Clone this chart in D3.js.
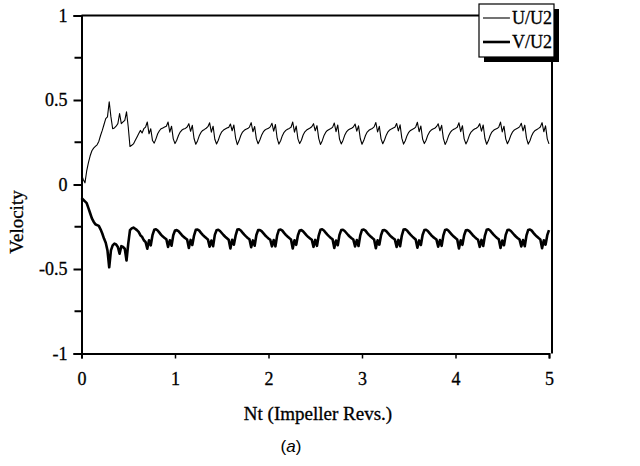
<!DOCTYPE html>
<html>
<head>
<meta charset="utf-8">
<script src="https://cdn.jsdelivr.net/npm/d3@7"></script>
<style>
  html, body { margin: 0; padding: 0; background: #fff; }
  svg { display: block; }
  text { font-family: "Liberation Serif", "Times New Roman", serif; fill: #000; }
  .serif { stroke: #000; stroke-width: 0.3px; }
</style>
</head>
<body>
<svg id="chart" width="640" height="466"></svg>
<script>
// Sampling: 54 samples per impeller revolution, from Nt = 0 to Nt = 5
const samplesPerRev = 54;

// Radial velocity U/U2
const uValues = [
  0.06, 0.03, 0.01, 0.08, 0.13, 0.17, 0.20, 0.215, 0.225, 0.235,
  0.255, 0.29, 0.32, 0.355, 0.39, 0.40, 0.49, 0.40, 0.33, 0.335,
  0.345, 0.36, 0.42, 0.36, 0.37, 0.38, 0.43, 0.34, 0.225, 0.232,
  0.24, 0.26, 0.28, 0.30, 0.32, 0.305, 0.33, 0.34, 0.37, 0.30, 0.33, 0.26,
  0.245, 0.27, 0.30, 0.318, 0.33, 0.335, 0.34, 0.345, 0.37, 0.31, 0.345, 0.27,
  0.242, 0.262, 0.29, 0.31, 0.322, 0.328, 0.332, 0.34, 0.36, 0.315, 0.35, 0.272,
  0.238, 0.258, 0.288, 0.308, 0.32, 0.326, 0.333, 0.342, 0.365, 0.31, 0.345, 0.268,
  0.24, 0.262, 0.292, 0.312, 0.322, 0.328, 0.334, 0.338, 0.358, 0.318, 0.352, 0.275,
  0.236, 0.26, 0.29, 0.31, 0.321, 0.327, 0.331, 0.34, 0.366, 0.312, 0.343, 0.27,
  0.241, 0.263, 0.291, 0.311, 0.323, 0.329, 0.333, 0.341, 0.362, 0.316, 0.355, 0.274,
  0.239, 0.259, 0.289, 0.309, 0.32, 0.327, 0.332, 0.339, 0.37, 0.31, 0.346, 0.27,
  0.242, 0.262, 0.293, 0.312, 0.322, 0.328, 0.334, 0.342, 0.36, 0.318, 0.348, 0.273,
  0.237, 0.258, 0.288, 0.308, 0.32, 0.326, 0.331, 0.338, 0.364, 0.313, 0.352, 0.269,
  0.24, 0.261, 0.291, 0.311, 0.322, 0.328, 0.333, 0.34, 0.358, 0.316, 0.347, 0.272,
  0.238, 0.26, 0.29, 0.31, 0.321, 0.327, 0.332, 0.341, 0.367, 0.311, 0.344, 0.27,
  0.241, 0.263, 0.292, 0.312, 0.323, 0.329, 0.334, 0.339, 0.361, 0.317, 0.353, 0.274,
  0.239, 0.259, 0.289, 0.309, 0.32, 0.326, 0.331, 0.34, 0.368, 0.312, 0.346, 0.269,
  0.242, 0.262, 0.292, 0.311, 0.322, 0.328, 0.333, 0.342, 0.359, 0.318, 0.35, 0.273,
  0.237, 0.258, 0.288, 0.308, 0.32, 0.327, 0.332, 0.339, 0.365, 0.313, 0.348, 0.27,
  0.24, 0.261, 0.291, 0.31, 0.321, 0.328, 0.333, 0.341, 0.36, 0.316, 0.352, 0.272,
  0.238, 0.26, 0.29, 0.31, 0.321, 0.327, 0.331, 0.34, 0.369, 0.311, 0.345, 0.27,
  0.241, 0.263, 0.292, 0.312, 0.323, 0.329, 0.334, 0.341, 0.362, 0.317, 0.351, 0.274,
  0.239, 0.259, 0.289, 0.309, 0.32, 0.326, 0.332, 0.34, 0.366, 0.312, 0.347, 0.27,
  0.24
];

// Tangential velocity V/U2
const vValues = [
  -0.08, -0.09, -0.10, -0.11, -0.14, -0.17, -0.20, -0.22, -0.235, -0.24,
  -0.245, -0.265, -0.29, -0.32, -0.345, -0.39, -0.49, -0.39, -0.36, -0.35,
  -0.355, -0.37, -0.41, -0.365, -0.37, -0.38, -0.45, -0.35, -0.27, -0.26,
  -0.255, -0.262, -0.27, -0.28, -0.30, -0.31, -0.33, -0.34, -0.38, -0.33, -0.36, -0.30,
  -0.268, -0.265, -0.272, -0.285, -0.298, -0.308, -0.316, -0.324, -0.37, -0.33, -0.362, -0.30,
  -0.272, -0.27, -0.276, -0.288, -0.3, -0.31, -0.318, -0.326, -0.376, -0.328, -0.358, -0.302,
  -0.268, -0.266, -0.273, -0.286, -0.298, -0.308, -0.317, -0.325, -0.368, -0.332, -0.365, -0.298,
  -0.271, -0.268, -0.275, -0.287, -0.299, -0.309, -0.318, -0.327, -0.379, -0.327, -0.356, -0.303,
  -0.267, -0.265, -0.272, -0.285, -0.297, -0.307, -0.316, -0.324, -0.371, -0.331, -0.362, -0.299,
  -0.27, -0.269, -0.276, -0.288, -0.3, -0.31, -0.319, -0.327, -0.366, -0.329, -0.366, -0.301,
  -0.269, -0.266, -0.273, -0.286, -0.298, -0.308, -0.317, -0.325, -0.378, -0.33, -0.357, -0.3,
  -0.272, -0.27, -0.277, -0.289, -0.301, -0.311, -0.319, -0.327, -0.369, -0.328, -0.363, -0.302,
  -0.268, -0.265, -0.272, -0.285, -0.297, -0.307, -0.316, -0.324, -0.375, -0.332, -0.359, -0.298,
  -0.27, -0.268, -0.275, -0.287, -0.299, -0.309, -0.318, -0.326, -0.367, -0.329, -0.364, -0.301,
  -0.269, -0.266, -0.273, -0.286, -0.298, -0.308, -0.317, -0.325, -0.377, -0.33, -0.356, -0.3,
  -0.271, -0.269, -0.276, -0.288, -0.3, -0.31, -0.318, -0.326, -0.37, -0.328, -0.365, -0.302,
  -0.267, -0.265, -0.272, -0.285, -0.297, -0.307, -0.316, -0.325, -0.374, -0.331, -0.358, -0.299,
  -0.27, -0.268, -0.275, -0.288, -0.3, -0.31, -0.318, -0.326, -0.368, -0.329, -0.363, -0.301,
  -0.269, -0.266, -0.274, -0.286, -0.298, -0.308, -0.317, -0.325, -0.378, -0.33, -0.357, -0.3,
  -0.271, -0.269, -0.276, -0.288, -0.3, -0.31, -0.319, -0.327, -0.369, -0.328, -0.364, -0.302,
  -0.268, -0.265, -0.272, -0.285, -0.297, -0.307, -0.316, -0.324, -0.376, -0.332, -0.359, -0.298,
  -0.27, -0.268, -0.275, -0.287, -0.299, -0.309, -0.318, -0.326, -0.367, -0.329, -0.365, -0.301,
  -0.269, -0.266, -0.273, -0.286, -0.298, -0.308, -0.317, -0.325, -0.377, -0.33, -0.356, -0.3,
  -0.27
];

const xTicks = [0, 1, 2, 3, 4, 5];
const yTicks = [-1, -0.5, 0, 0.5, 1];
const yMinorTicks = [-0.75, -0.25, 0.25, 0.75];
const seriesNames = ["U/U2", "V/U2"];

const svg = d3.select("#chart");
const plot = { left: 81.5, right: 549, top: 15.5, bottom: 353.5 };

const x = d3.scaleLinear().domain([0, 5]).range([plot.left, plot.right]);
const y = d3.scaleLinear().domain([-1, 1]).range([plot.bottom, plot.top]);

// Axes
const yAxis = d3.axisLeft(y).tickValues(yTicks).tickSize(8).tickPadding(6)
  .tickFormat(d => d === 0 ? "0" : String(d));
const gy = svg.append("g").attr("transform", `translate(${plot.left},0)`).call(yAxis);
gy.select(".domain").attr("stroke-width", 2);
gy.selectAll(".tick line").attr("stroke-width", 2);
gy.selectAll("text").attr("class", "serif")
  .style("font-size", "18px").style("font-family", "Liberation Serif");

svg.append("g").selectAll("line").data(yMinorTicks).join("line")
  .attr("x1", plot.left - 7).attr("x2", plot.left)
  .attr("y1", d => y(d)).attr("y2", d => y(d))
  .attr("stroke", "#000").attr("stroke-width", 2);

const xAxis = d3.axisBottom(x).tickValues(xTicks).tickSize(5).tickPadding(14)
  .tickFormat(d3.format("d"));
const gx = svg.append("g").attr("transform", `translate(0,${plot.bottom})`).call(xAxis);
gx.select(".domain").attr("stroke-width", 2);
gx.selectAll(".tick line").attr("stroke-width", 1.5);
gx.selectAll("text").attr("class", "serif")
  .style("font-size", "18px").style("font-family", "Liberation Serif");

// Frame: top and right edges
svg.append("path")
  .attr("d", `M${plot.left},${plot.top}H${plot.right + 3}V${plot.bottom}`)
  .attr("fill", "none").attr("stroke", "#000").attr("stroke-width", 2);

// Series lines
const line = d3.line()
  .x((d, i) => x(i / samplesPerRev))
  .y(d => y(d));

svg.append("path").datum(uValues)
  .attr("d", line).attr("fill", "none").attr("stroke", "#000")
  .attr("stroke-width", 1.1).attr("stroke-linejoin", "round");

svg.append("path").datum(vValues)
  .attr("d", line).attr("fill", "none").attr("stroke", "#000")
  .attr("stroke-width", 2.6).attr("stroke-linejoin", "round");

// Legend with drop shadow
const lg = { x: 479, y: 4, w: 75, h: 53 };
svg.append("rect").attr("x", lg.x + 5).attr("y", lg.y + 5)
  .attr("width", lg.w).attr("height", lg.h).attr("fill", "#000");
svg.append("rect").attr("x", lg.x).attr("y", lg.y)
  .attr("width", lg.w).attr("height", lg.h)
  .attr("fill", "#fff").attr("stroke", "#000").attr("stroke-width", 1.2);

seriesNames.forEach((name, i) => {
  const yy = lg.y + 14 + i * 24;
  svg.append("line").attr("x1", lg.x + 4).attr("x2", lg.x + 31)
    .attr("y1", yy).attr("y2", yy)
    .attr("stroke", "#000").attr("stroke-width", i === 0 ? 1.1 : 2.6);
  svg.append("text").attr("class", "serif")
    .attr("x", lg.x + lg.w - 2).attr("y", yy + 6)
    .attr("text-anchor", "end").style("font-size", "18px").text(name);
});

// Axis titles
svg.append("text").attr("class", "serif")
  .attr("transform", "translate(23,222) rotate(-90)")
  .attr("text-anchor", "middle").style("font-size", "19px").text("Velocity");

svg.append("text").attr("class", "serif")
  .attr("x", 318).attr("y", 420)
  .attr("text-anchor", "middle").style("font-size", "19px").text("Nt (Impeller Revs.)");

const cap = svg.append("text").attr("x", 291).attr("y", 452)
  .attr("text-anchor", "middle")
  .style("font-family", "Liberation Sans, Arial, sans-serif").style("font-size", "17px");
cap.append("tspan").text("(");
cap.append("tspan").style("font-style", "italic").text("a");
cap.append("tspan").text(")");
</script>
</body>
</html>
